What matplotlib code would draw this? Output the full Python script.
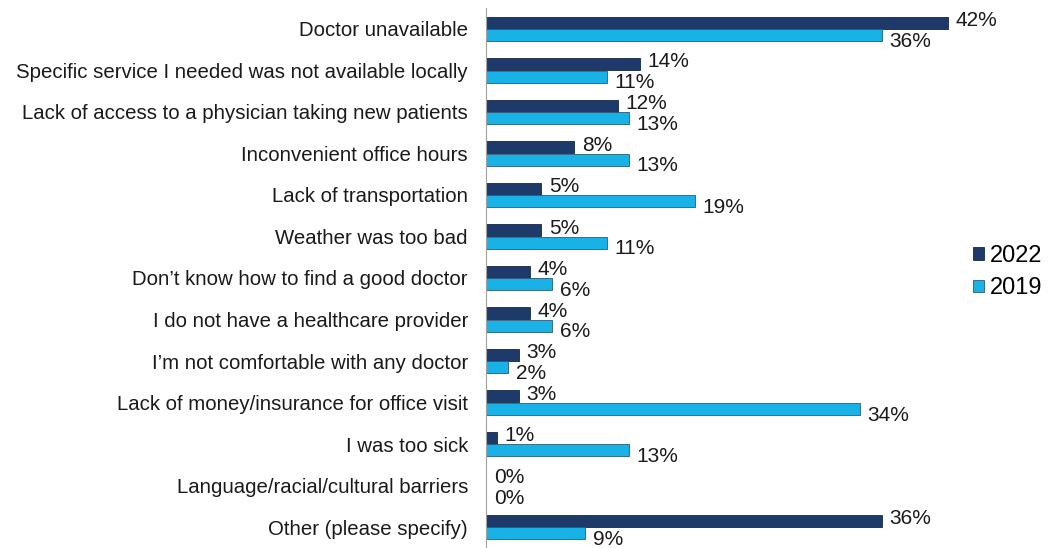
import matplotlib.pyplot as plt
import numpy as np

plt.rcParams['font.family'] = ['Liberation Sans', 'DejaVu Sans']

categories = [
    'Doctor unavailable',
    'Specific service I needed was not available locally',
    'Lack of access to a physician taking new patients',
    'Inconvenient office hours',
    'Lack of transportation',
    'Weather was too bad',
    'Don\u2019t know how to find a good doctor',
    'I do not have a healthcare provider',
    'I\u2019m not comfortable with any doctor',
    'Lack of money/insurance for office visit',
    'I was too sick',
    'Language/racial/cultural barriers',
    'Other (please specify)',
]
vals_2022 = [42, 14, 12, 8, 5, 5, 4, 4, 3, 3, 1, 0, 36]
vals_2019 = [36, 11, 13, 13, 19, 11, 6, 6, 2, 34, 13, 0, 9]

c2022 = '#1d3a6b'
c2019 = '#19b2e6'

fig = plt.figure(figsize=(10.6, 5.48), dpi=100)
ax = fig.add_axes([486 / 1060, 0.0, 495 / 1060, 540 / 548])

y = np.arange(len(categories))
h = 0.29
ax.barh(y - 0.15, vals_2022, height=h, color=c2022, edgecolor='#14284a', linewidth=0.6, label='2022')
ax.barh(y + 0.15, vals_2019, height=h, color=c2019, edgecolor='#2a5a7a', linewidth=0.6, label='2019')

for i in range(len(categories)):
    ax.text(vals_2022[i] + 0.7, y[i] - 0.2, f'{vals_2022[i]}%', va='center', ha='left', fontsize=15, color='#1a1a1a')
    ax.text(vals_2019[i] + 0.7, y[i] + 0.3, f'{vals_2019[i]}%', va='center', ha='left', fontsize=15, color='#1a1a1a')

ax.set_xlim(0, 45)
ax.set_ylim(len(categories) - 0.5, -0.5)
ax.set_yticks(y)
ax.set_yticklabels(categories, fontsize=14.7, color='#1a1a1a')
ax.tick_params(axis='y', length=0, pad=13)
ax.set_xticks([])
for s in ['top', 'right', 'bottom']:
    ax.spines[s].set_visible(False)
ax.spines['left'].set_color('#a0a0a0')

fig.legend(loc='center left', bbox_to_anchor=(952 / 1060, 1 - 272 / 548), frameon=False,
           fontsize=17, handlelength=0.45, handleheight=0.45, handletextpad=0.25, labelspacing=0.45)

fig.savefig('out.png', dpi=100)
